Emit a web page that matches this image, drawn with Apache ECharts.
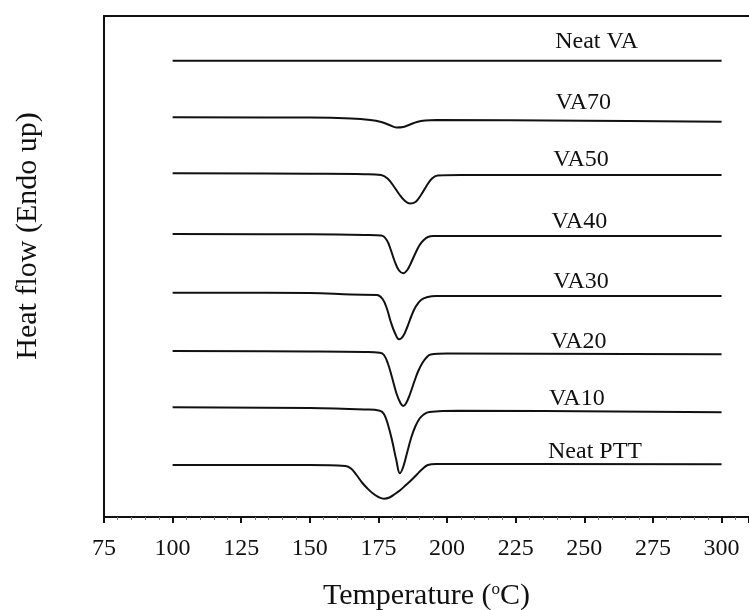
<!DOCTYPE html>
<html><head><meta charset="utf-8">
<script src="https://cdn.jsdelivr.net/npm/echarts@6/dist/echarts.min.js"></script>
<style>html,body{margin:0;padding:0;background:#fff}#c{width:749px;height:610px}</style>
</head><body><div id="c"></div>
<script>
// Temperature (°C) vs heat flow (arbitrary units, offset curves)
const xTickLabels = [75, 100, 125, 150, 175, 200, 225, 250, 275, 300];
const seriesNames = ['Neat VA', 'VA70', 'VA50', 'VA40', 'VA30', 'VA20', 'VA10', 'Neat PTT'];

const neatVA = [[100, 456.3], [200, 456.3], [300, 456.3]];
const va70 = [[100, 399.7], [150, 399.4], [165, 398.5], [172, 397], [176, 395], [179, 392], [181.6, 389.5], [184, 390], [186.5, 392.5], [189, 395], [192, 396.5], [196, 397], [250, 396.2], [300, 395.3]];
const va50 = [[100, 343.7], [150, 343.2], [170, 342.8], [176, 342], [178.5, 338], [180.5, 331], [182.5, 323], [184.5, 316.5], [186.5, 313.5], [188.5, 315], [190.5, 322], [192.5, 331], [194.5, 338.5], [196.5, 341.5], [205, 342], [300, 342]];
const va40 = [[100, 283], [150, 282.7], [170, 282], [176, 281.5], [178, 277], [179.5, 267], [181, 255], [182.5, 246.5], [184, 243.7], [185.5, 247], [187, 255], [188.5, 264], [190, 272], [191.5, 277], [193, 280], [195, 281], [300, 281]];
const va30 = [[100, 224.3], [150, 224], [165, 222.5], [174.5, 222], [176.5, 218], [178, 209], [179.5, 195], [181, 184], [182.5, 177.7], [184, 181], [185.5, 190], [187, 201], [188.5, 210], [190.5, 217], [193, 220], [196, 221], [300, 221]];
const va20 = [[100, 166], [150, 165.5], [170, 165], [175.5, 164.3], [177, 162], [178.5, 153], [180, 139], [181.5, 124], [183, 114], [184, 111], [185, 113.5], [186.5, 123], [188, 135], [189.5, 146], [191, 154], [192.5, 159.5], [194, 162.5], [200, 163.5], [300, 162.7]];
const va10 = [[100, 109.7], [150, 109], [170, 107.5], [175.5, 106.3], [177, 103], [178.5, 92], [180, 76], [181.5, 57], [182.8, 43.7], [184, 50], [185.5, 65], [187, 80], [188.5, 91], [190, 98.5], [191.5, 102.5], [193.5, 105], [204, 106.3], [300, 104.7]];
const neatPTT = [[100, 52], [150, 52], [163, 51], [165, 48.5], [167, 42], [169, 34.5], [171, 28.5], [173, 23.5], [175, 20], [177, 18.3], [179, 19.5], [181, 23], [183, 27], [185, 32], [187, 37], [189, 42.5], [191, 48], [193, 52], [196, 53], [300, 52.7]];

const seriesData = [neatVA, va70, va50, va40, va30, va20, va10, neatPTT];

// label anchors (data coordinates)
const labelAnchors = [[254.5, 475.3], [249.6, 414], [248.8, 357], [248.2, 295.3], [248.8, 235.3], [248.0, 175.3], [247.3, 118.7], [253.9, 65.3]];

const FONT = '"Liberation Serif", "Times New Roman", serif';
const INK = '#111';

const chart = echarts.init(document.getElementById('c'), null, {renderer: 'canvas'});
const series = seriesData.map((d, i) => ({
  name: seriesNames[i],
  type: 'line',
  data: d,
  showSymbol: false,
  smooth: 0.4,
  lineStyle: {color: INK, width: 2},
  silent: true,
  animation: false,
  markPoint: {
    symbol: 'circle', symbolSize: 0, silent: true, animation: false,
    label: {show: true, position: 'inside', formatter: seriesNames[i], color: INK, fontFamily: FONT, fontSize: 24},
    data: [{coord: labelAnchors[i]}]
  }
}));

chart.setOption({
  animation: false,
  backgroundColor: '#fff',
  grid: {left: 104, right: 0, top: 16, bottom: 93, containLabel: false, outerBoundsMode: 'none'},
  xAxis: [{
    type: 'value', min: 75, max: 310, interval: 25,
    axisLine: {show: true, onZero: false, lineStyle: {color: INK, width: 2}},
    axisTick: {show: true, inside: false, length: 6, lineStyle: {color: INK, width: 2}},
    minorTick: {show: true, splitNumber: 5, length: 3, lineStyle: {color: '#777', width: 1}},
    splitLine: {show: false},
    axisLabel: {showMaxLabel: false, margin: 20, color: INK, fontFamily: FONT, fontSize: 24,
      formatter: v => (xTickLabels.indexOf(v) >= 0 ? String(v) : '')},
    name: 'Temperature ({sup|o}C)',
    nameLocation: 'middle', nameGap: 64,
    nameTextStyle: {color: INK, fontFamily: FONT, fontSize: 30,
      rich: {sup: {fontSize: 17, fontFamily: FONT, color: INK, padding: [0, 0, 13, 0]}}}
  }, {
    type: 'value', min: 75, max: 310, position: 'top',
    axisLine: {show: true, onZero: false, lineStyle: {color: INK, width: 2}},
    axisTick: {show: false}, axisLabel: {show: false}, splitLine: {show: false}
  }],
  yAxis: {
    type: 'value', min: 0, max: 501,
    axisLine: {show: true, onZero: false, lineStyle: {color: INK, width: 2}},
    axisTick: {show: false}, axisLabel: {show: false}, splitLine: {show: false}
  },
  graphic: [{
    type: 'text', x: 28, y: 236, rotation: Math.PI / 2,
    style: {text: 'Heat flow (Endo up)', fill: INK, font: '30px ' + FONT, textAlign: 'center', textVerticalAlign: 'middle'}
  }],
  series: series
});
</script></body></html>
